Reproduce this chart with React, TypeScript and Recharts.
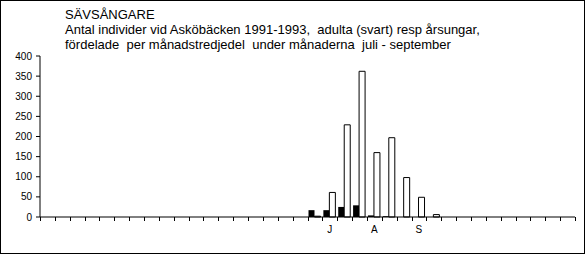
import React from 'react';
import { BarChart, Bar, XAxis, YAxis } from 'recharts';

const categories = [
  'jan1', 'jan2', 'jan3', 'feb1', 'feb2', 'feb3', 'mar1', 'mar2', 'mar3',
  'apr1', 'apr2', 'apr3', 'maj1', 'maj2', 'maj3', 'jun1', 'jun2', 'jun3',
  'jul1', 'jul2', 'jul3', 'aug1', 'aug2', 'aug3', 'sep1', 'sep2', 'sep3',
  'okt1', 'okt2', 'okt3', 'nov1', 'nov2', 'nov3', 'dec1', 'dec2', 'dec3',
];

const tickLabels = [
  '', '', '', '', '', '', '', '', '',
  '', '', '', '', '', '', '', '', '',
  '', 'J', '', '', 'A', '', '', 'S', '',
  '', '', '', '', '', '', '', '', '',
];

const adults = [
  0, 0, 0, 0, 0, 0, 0, 0, 0,
  0, 0, 0, 0, 0, 0, 0, 0, 0,
  17, 17, 25, 29, 4, 2, 0, 0, 0,
  0, 0, 0, 0, 0, 0, 0, 0, 0,
];

const juveniles = [
  0, 0, 0, 0, 0, 0, 0, 0, 0,
  0, 0, 0, 0, 0, 0, 0, 0, 0,
  2, 61, 229, 362, 160, 197, 98, 49, 6,
  0, 0, 0, 0, 0, 0, 0, 0, 0,
];

const yTicks = [0, 50, 100, 150, 200, 250, 300, 350, 400];

const titleLines = [
  'SÄVSÅNGARE',
  'Antal individer vid Asköbäcken 1991-1993,  adulta (svart) resp årsungar,',
  'fördelade  per månadstredjedel  under månaderna  juli - september',
];

const data = categories.map((name, i) => ({
  name,
  adults: adults[i],
  juveniles: juveniles[i],
}));

const FONT = '"Liberation Sans", Arial, sans-serif';
const CHART_W = 585;
const CHART_H = 255;
const MARGIN = { top: 56, right: 10, bottom: 8, left: 0 };
const Y_W = 40;
const PLOT_W = CHART_W - MARGIN.left - MARGIN.right - Y_W;
const BAND = PLOT_W / categories.length;

const XTick = (props: any) => {
  const { x, y, payload } = props;
  const index = props.index ?? payload?.index ?? 0;
  const left = Math.round(x - BAND / 2) + 0.5;
  const right = Math.round(x + BAND / 2) + 0.5;
  return (
    <g>
      <line x1={left} x2={left} y1={y} y2={y + 4} stroke="#000" strokeWidth={1} />
      {index === categories.length - 1 && (
        <line x1={right} x2={right} y1={y} y2={y + 4} stroke="#000" strokeWidth={1} />
      )}
      <text x={x} y={y + 16} textAnchor="middle" fontSize={10} fontFamily={FONT} fill="#000">
        {tickLabels[index]}
      </text>
    </g>
  );
};

export default function App() {
  return (
    <div
      style={{
        position: 'absolute',
        left: 0,
        top: 0,
        width: CHART_W,
        height: 254,
        boxSizing: 'border-box',
        border: '1px solid #000',
        background: '#fff',
        overflow: 'hidden',
      }}
    >
      <style>{`body{margin:0}`}</style>
      <div
        style={{
          position: 'absolute',
          left: 64,
          top: 6,
          fontFamily: FONT,
          fontSize: 13,
          lineHeight: '15px',
          whiteSpace: 'pre',
          color: '#000',
        }}
      >
        {titleLines.map((t, i) => (
          <div key={i}>{t}</div>
        ))}
      </div>
      <div style={{ position: 'absolute', left: -1, top: -1 }}>
        <BarChart
          width={CHART_W}
          height={CHART_H}
          data={data}
          margin={MARGIN}
          barGap={0}
          barSize={6}
        >
          <XAxis
            dataKey="name"
            interval={0}
            tickLine={false}
            tickSize={0}
            tickMargin={0}
            axisLine={{ stroke: '#000' }}
            tick={<XTick />}
            height={30}
          />
          <YAxis
            width={Y_W}
            domain={[0, 400]}
            ticks={yTicks}
            interval={0}
            tickSize={4}
            tickMargin={4}
            axisLine={{ stroke: '#000' }}
            tickLine={{ stroke: '#000' }}
            tick={{ fill: '#000', fontSize: 10, fontFamily: FONT }}
          />
          <Bar dataKey="adults" fill="#000" stroke="none" isAnimationActive={false} />
          <Bar dataKey="juveniles" fill="#fff" stroke="#000" strokeWidth={1} isAnimationActive={false} />
        </BarChart>
      </div>
    </div>
  );
}
